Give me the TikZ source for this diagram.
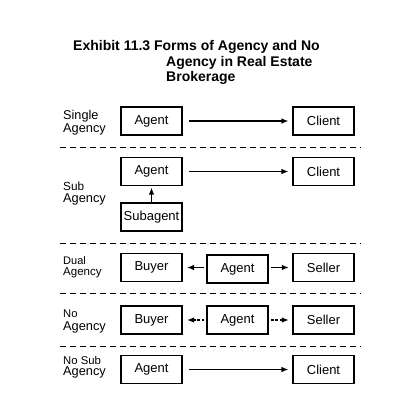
\documentclass[tikz,border=0pt]{standalone}
\usepackage{fontspec}
\setmainfont{Liberation Sans}
\usetikzlibrary{arrows.meta}
\begin{document}
\begin{tikzpicture}[x=1pt,y=-1pt,
  box/.style={draw,line width=1.1pt,minimum width=61pt,minimum height=28pt,inner sep=0pt,font=\fontsize{13}{15}\selectfont},
  link/.style={line width=1.2pt,-{Latex[length=7pt,width=5.5pt]}},
  dlink/.style={line width=1.2pt,dash pattern=on 2.7pt off 1.7pt,-{Latex[length=7pt,width=5.5pt]}},
  sep/.style={line width=0.9pt,dash pattern=on 5.7pt off 4.3pt},
  lbl/.style={anchor=base west,inner sep=0pt},
  ttl/.style={anchor=base west,inner sep=0pt,font=\fontsize{14}{16}\selectfont\bfseries}]
\useasboundingbox (0,0) rectangle (418,407);
% title
\node[ttl] (t1) at (73,50.7) {Exhibit 11.3 Forms of Agency and No};
\node[ttl] (t2) at (166,66.2) {Agency in Real Estate};
\node[ttl] (t3) at (166,81.7) {Brokerage};
% separators
\coordinate (d1l) at (60,147); \coordinate (d1r) at (361,147);
\coordinate (d2l) at (60,243); \coordinate (d2r) at (361,243);
\coordinate (d3l) at (60,293); \coordinate (d3r) at (361,293);
\coordinate (d4l) at (60,346); \coordinate (d4r) at (361,346);
\draw[sep] (d1l) -- (d1r);
\draw[sep] (d2l) -- (d2r);
\draw[sep] (d3l) -- (d3r);
\draw[sep] (d4l) -- (d4r);
% row 1: single agency
\node[lbl,font=\fontsize{12.7}{14}\selectfont] (l1a) at (63,119) {Single};
\begin{scope}
\clip (0,0) rectangle (118,134.5);
\node[lbl,font=\fontsize{12.8}{14}\selectfont] (l1b) at (63,132) {Agency};
\end{scope}
\node[box] (a1) at (151.5,121) {Agent};
\node[box] (c1) at (323.5,121) {Client};
\draw[link,shorten <=6pt,shorten >=4pt] (a1) -- (c1);
% row 2: sub agency
\node[lbl,font=\fontsize{11.8}{13}\selectfont] (l2a) at (63,190) {Sub};
\node[lbl,font=\fontsize{12.8}{14}\selectfont] (l2b) at (63,202) {Agency};
\node[box] (a2) at (151.5,171.5) {Agent};
\node[box] (c2) at (323.5,171.5) {Client};
\node[box] (s2) at (151.5,217) {Subagent};
\draw[link,shorten <=6pt,shorten >=4pt] (a2) -- (c2);
\draw[link,shorten >=1.5pt] (s2) -- (a2);
% row 3: dual agency
\node[lbl,font=\fontsize{11}{13}\selectfont] (l3a) at (63,264) {Dual};
\node[lbl,font=\fontsize{11.5}{13}\selectfont] (l3b) at (63,275.7) {Agency};
\node[box] (b3) at (151.5,267.5) {Buyer};
\node[box] (g3) at (237.5,269) {Agent};
\node[box] (s3) at (323.5,267.5) {Seller};
\draw[link,shorten <=2pt,shorten >=4.5pt] (g3.west |- b3.east) -- (b3.east);
\draw[link,shorten <=2.5pt,shorten >=3.7pt] (g3.east |- s3.west) -- (s3.west);
% row 4: no agency
\node[lbl,font=\fontsize{11.2}{13}\selectfont] (l4a) at (63,317.7) {No};
\node[lbl,font=\fontsize{12.8}{14}\selectfont] (l4b) at (63,330.7) {Agency};
\node[box] (b4) at (151.5,320) {Buyer};
\node[box] (g4) at (237.5,320) {Agent};
\node[box] (s4) at (323.5,320) {Seller};
\draw[dlink,shorten <=2pt,shorten >=4.5pt] (g4.west) -- (b4.east);
\draw[dlink,shorten <=2.5pt,shorten >=3.7pt] (g4.east) -- (s4.west);
% row 5: no sub agency
\node[lbl,font=\fontsize{11.3}{13}\selectfont] (l5a) at (63,364) {No Sub};
\node[lbl,font=\fontsize{12.8}{14}\selectfont] (l5b) at (63,375.7) {Agency};
\node[box] (a5) at (151.5,369.5) {Agent};
\node[box] (c5) at (323.5,369.5) {Client};
\draw[link,shorten <=6pt,shorten >=4pt] (a5) -- (c5);
\end{tikzpicture}
\end{document}
